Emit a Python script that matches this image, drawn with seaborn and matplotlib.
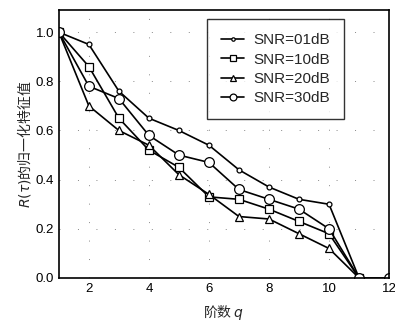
import matplotlib
matplotlib.use("Agg")
import matplotlib.pyplot as plt
import seaborn as sns
import pandas as pd

# values
order_q = [1, 2, 3, 4, 5, 6, 7, 8, 9, 10, 11]
order_q_30 = [1, 2, 3, 4, 5, 6, 7, 8, 9, 10, 11, 12]
snr_01 = [1.0, 0.95, 0.76, 0.65, 0.60, 0.54, 0.44, 0.37, 0.32, 0.30, 0.0]
snr_10 = [1.0, 0.86, 0.65, 0.52, 0.45, 0.33, 0.32, 0.28, 0.23, 0.18, 0.0]
snr_20 = [1.0, 0.70, 0.60, 0.54, 0.42, 0.34, 0.25, 0.24, 0.18, 0.12, 0.0]
snr_30 = [1.0, 0.78, 0.73, 0.58, 0.50, 0.47, 0.36, 0.32, 0.28, 0.20, 0.0, 0.0]
labels = ["SNR=01dB", "SNR=10dB", "SNR=20dB", "SNR=30dB"]
x_ticks = [2, 4, 6, 8, 10, 12]
y_ticks = [0.0, 0.2, 0.4, 0.6, 0.8, 1.0]

sns.set_style("white")
plt.rcParams['font.family'] = ['Liberation Sans', 'Noto Sans CJK SC']

fig = plt.figure(figsize=(3.95, 3.24), dpi=100)
ax = fig.add_axes([0.149, 0.142, 0.836, 0.827])

series = [
    (order_q, snr_01, labels[0], "o", 3.5),
    (order_q, snr_10, labels[1], "s", 6),
    (order_q, snr_20, labels[2], "^", 5.5),
    (order_q_30, snr_30, labels[3], "o", 7),
]
for xs, ys, lab, mk, ms in series:
    df = pd.DataFrame({"q": xs, "v": ys})
    sns.lineplot(data=df, x="q", y="v", ax=ax, color="black", linewidth=1.2,
                 marker=mk, markersize=ms, markerfacecolor="white",
                 markeredgecolor="black", markeredgewidth=0.9, label=lab)

ax.set_xlim(1, 12)
ax.set_ylim(0, 1.09)
ax.set_xticks(x_ticks)
ax.set_yticks(y_ticks)
ax.set_yticklabels([f"{v:.1f}" for v in y_ticks])
ax.tick_params(direction="in", length=3, labelsize=9.5, colors="black")
ax.grid(True, linestyle=(0, (1, 18)), color="#888888", linewidth=0.7)
for s in ax.spines.values():
    s.set_color("black")
    s.set_linewidth(1.2)

ax.set_xlabel("阶数 $q$", fontsize=10, family=['Noto Sans CJK SC'], labelpad=6)
ax.set_ylabel("$R(\\tau)$的归一化特征值", fontsize=10, family=['Noto Sans CJK SC'], labelpad=2)

leg = ax.legend(loc="upper left", bbox_to_anchor=(0.45, 0.965), borderaxespad=0,
                frameon=True, fancybox=False, edgecolor="black", fontsize=11,
                handlelength=1.5, labelspacing=0.35, borderpad=0.9,
                handletextpad=0.6, markerscale=0.7)
leg.get_frame().set_linewidth(1.0)

fig.savefig("out.png", dpi=100)
